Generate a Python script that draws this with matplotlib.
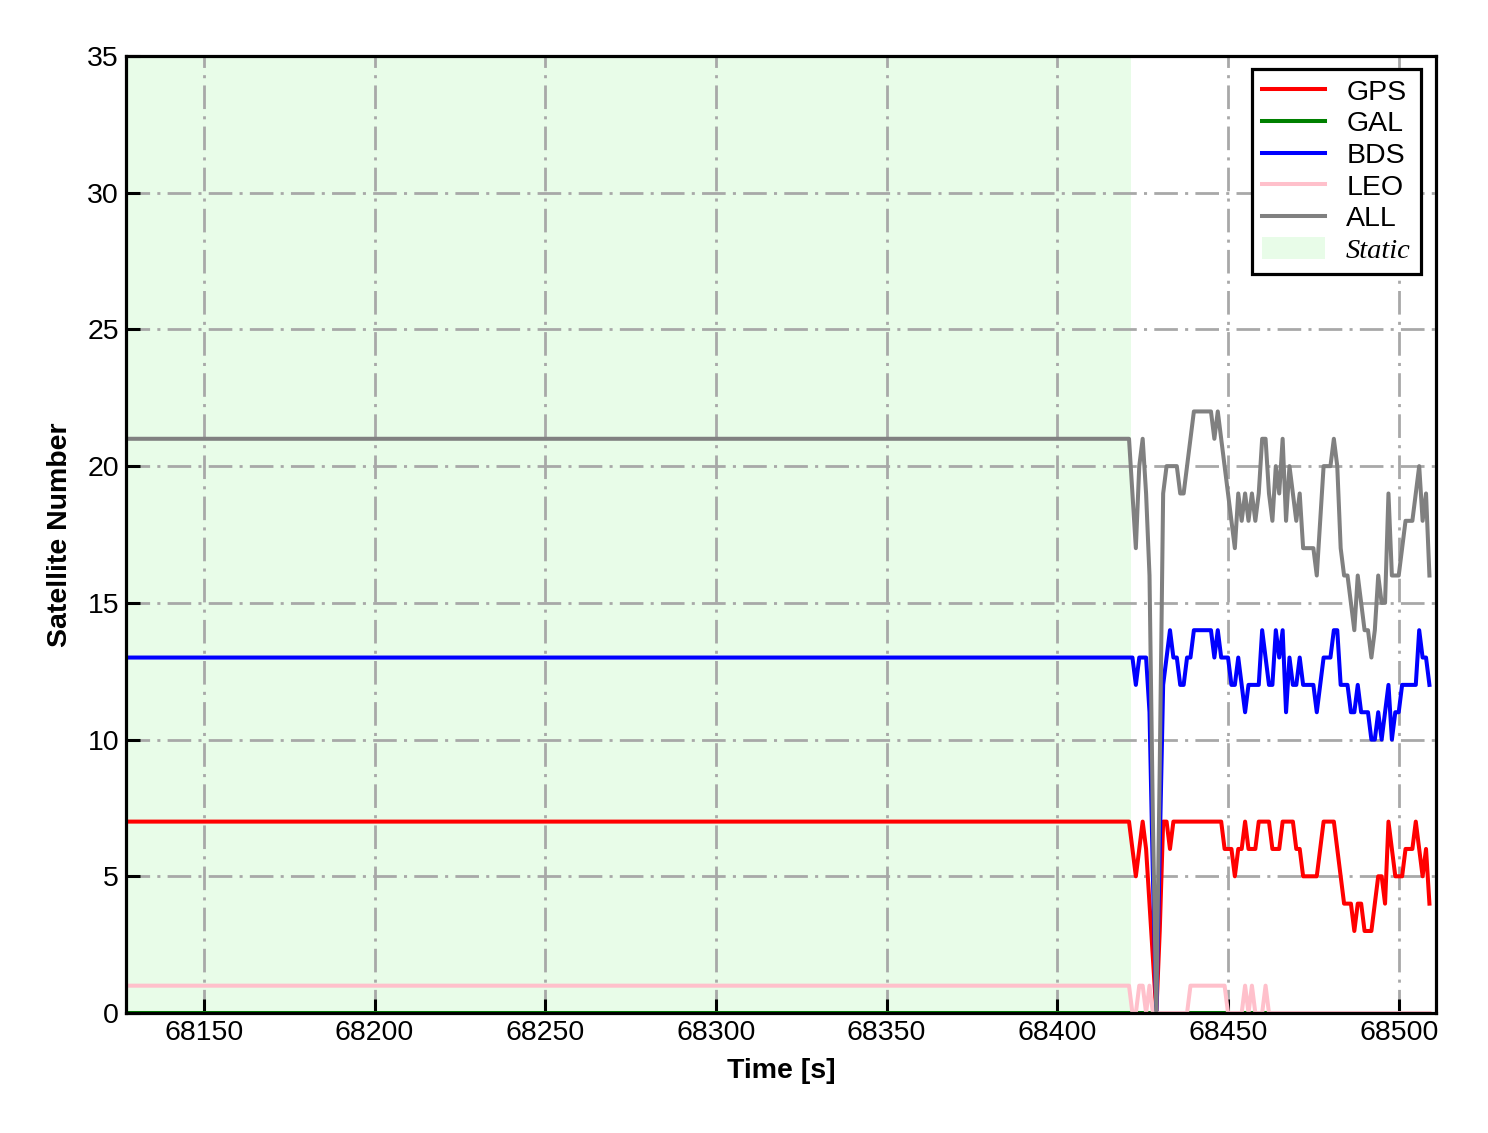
import matplotlib
matplotlib.use("Agg")
import matplotlib.pyplot as plt
from matplotlib.patches import Patch
from matplotlib.lines import Line2D

# ---------------- data ----------------
time_s = [68127,
          68421, 68422, 68423, 68424, 68425, 68426, 68427, 68428, 68429, 68430,
          68431, 68432, 68433, 68434, 68435, 68436, 68437, 68438, 68439, 68440,
          68441, 68442, 68443, 68444, 68445, 68446, 68447, 68448, 68449, 68450,
          68451, 68452, 68453, 68454, 68455, 68456, 68457, 68458, 68459, 68460,
          68461, 68462, 68463, 68464, 68465, 68466, 68467, 68468, 68469, 68470,
          68471, 68472, 68473, 68474, 68475, 68476, 68477, 68478, 68479, 68480,
          68481, 68482, 68483, 68484, 68485, 68486, 68487, 68488, 68489, 68490,
          68491, 68492, 68493, 68494, 68495, 68496, 68497, 68498, 68499, 68500,
          68501, 68502, 68503, 68504, 68505, 68506, 68507, 68508, 68509]

gps = [7,
       7, 6, 5, 6, 7, 6, 4, 2, 0, 3,
       7, 7, 6, 7, 7, 7, 7, 7, 7, 7,
       7, 7, 7, 7, 7, 7, 7, 7, 6, 6,
       6, 5, 6, 6, 7, 6, 6, 6, 7, 7,
       7, 7, 6, 6, 6, 7, 7, 7, 7, 6,
       6, 5, 5, 5, 5, 5, 6, 7, 7, 7,
       7, 6, 5, 4, 4, 4, 3, 4, 4, 3,
       3, 3, 4, 5, 5, 4, 7, 6, 5, 5,
       5, 6, 6, 6, 7, 6, 5, 6, 4]

gal = [0,
       0, 0, 0, 0, 0, 0, 0, 0, 0, 0,
       0, 0, 0, 0, 0, 0, 0, 0, 0, 0,
       0, 0, 0, 0, 0, 0, 0, 0, 0, 0,
       0, 0, 0, 0, 0, 0, 0, 0, 0, 0,
       0, 0, 0, 0, 0, 0, 0, 0, 0, 0,
       0, 0, 0, 0, 0, 0, 0, 0, 0, 0,
       0, 0, 0, 0, 0, 0, 0, 0, 0, 0,
       0, 0, 0, 0, 0, 0, 0, 0, 0, 0,
       0, 0, 0, 0, 0, 0, 0, 0, 0]

bds = [13,
       13, 13, 12, 13, 13, 13, 11, 5, 0, 6,
       12, 13, 14, 13, 13, 12, 12, 13, 13, 14,
       14, 14, 14, 14, 14, 13, 14, 13, 13, 13,
       12, 12, 13, 12, 11, 12, 12, 12, 12, 14,
       13, 12, 12, 14, 13, 14, 11, 13, 12, 12,
       13, 12, 12, 12, 12, 11, 12, 13, 13, 13,
       14, 14, 12, 12, 12, 11, 11, 12, 11, 11,
       11, 10, 10, 11, 10, 11, 12, 10, 11, 11,
       12, 12, 12, 12, 12, 14, 13, 13, 12]

leo = [1,
       1, 0, 0, 1, 1, 0, 1, 0, 0, 0,
       0, 0, 0, 0, 0, 0, 0, 0, 1, 1,
       1, 1, 1, 1, 1, 1, 1, 1, 1, 0,
       0, 0, 0, 0, 1, 0, 1, 0, 0, 0,
       1, 0, 0, 0, 0, 0, 0, 0, 0, 0,
       0, 0, 0, 0, 0, 0, 0, 0, 0, 0,
       0, 0, 0, 0, 0, 0, 0, 0, 0, 0,
       0, 0, 0, 0, 0, 0, 0, 0, 0, 0,
       0, 0, 0, 0, 0, 0, 0, 0, 0]

all_sat = [21,
           21, 19, 17, 20, 21, 19, 16, 7, 0, 9,
           19, 20, 20, 20, 20, 19, 19, 20, 21, 22,
           22, 22, 22, 22, 22, 21, 22, 21, 20, 19,
           18, 17, 19, 18, 19, 18, 19, 18, 19, 21,
           21, 19, 18, 20, 19, 21, 18, 20, 19, 18,
           19, 17, 17, 17, 17, 16, 18, 20, 20, 20,
           21, 20, 17, 16, 16, 15, 14, 16, 15, 14,
           14, 13, 14, 16, 15, 15, 19, 16, 16, 16,
           17, 18, 18, 18, 19, 20, 18, 19, 16]

static_start = 68127.2
static_end = 68421.5
x_limits = (68127.2, 68510.9)
y_limits = (0, 35)
x_ticks = [68150, 68200, 68250, 68300, 68350, 68400, 68450, 68500]
y_ticks = [0, 5, 10, 15, 20, 25, 30, 35]

# ---------------- plot ----------------
plt.rcParams['font.family'] = ['Liberation Sans', 'DejaVu Sans']

fig = plt.figure(figsize=(14.88, 11.33), dpi=100)
ax = fig.add_axes([0.0847, 0.1059, 0.8803, 0.8447])

static_color = '#e8fce8'
ax.axvspan(static_start, static_end, color=static_color, zorder=0, lw=0)

lw = 2.9
ax.plot(time_s, gps, color='red', lw=lw, zorder=3)
ax.plot(time_s, gal, color='green', lw=lw, zorder=3)
ax.plot(time_s, bds, color='blue', lw=lw, zorder=3)
ax.plot(time_s, leo, color='pink', lw=lw, zorder=3)
ax.plot(time_s, all_sat, color='gray', lw=lw, zorder=4)

ax.set_xlim(*x_limits)
ax.set_ylim(*y_limits)
ax.set_xticks(x_ticks)
ax.set_yticks(y_ticks)
ax.tick_params(direction='in', length=10, width=2.2, labelsize=20.5, pad=5)

ax.grid(True, color='#a8a8a8', linestyle=(0, (8.5, 2.6, 1.1, 2.6)), linewidth=2.0, zorder=1)
for s in ax.spines.values():
    s.set_linewidth(2.3)
    s.set_zorder(5)

ax.set_xlabel('Time [s]', fontsize=20.5, fontweight='bold', labelpad=9)
ax.set_ylabel('Satellite Number', fontsize=20.5, fontweight='bold', labelpad=10)

handles = [Line2D([], [], color='red', lw=lw),
           Line2D([], [], color='green', lw=lw),
           Line2D([], [], color='blue', lw=lw),
           Line2D([], [], color='pink', lw=lw),
           Line2D([], [], color='gray', lw=lw),
           Patch(facecolor=static_color, edgecolor='none')]
labels = ['GPS', 'GAL', 'BDS', 'LEO', 'ALL', 'Static']
leg = ax.legend(handles, labels, loc='upper right', fontsize=20.5, fancybox=False,
                framealpha=1, edgecolor='black', borderpad=0.35, labelspacing=0.17,
                handlelength=2.2, handleheight=0.8, handletextpad=0.75,
                borderaxespad=0, bbox_to_anchor=(0.9885, 0.9864))
leg.get_frame().set_linewidth(2.3)
leg.set_zorder(10)
t = leg.get_texts()[-1]
t.set_fontfamily(['Liberation Serif', 'DejaVu Serif'])
t.set_fontstyle('italic')

fig.savefig('out.png', dpi=100)
